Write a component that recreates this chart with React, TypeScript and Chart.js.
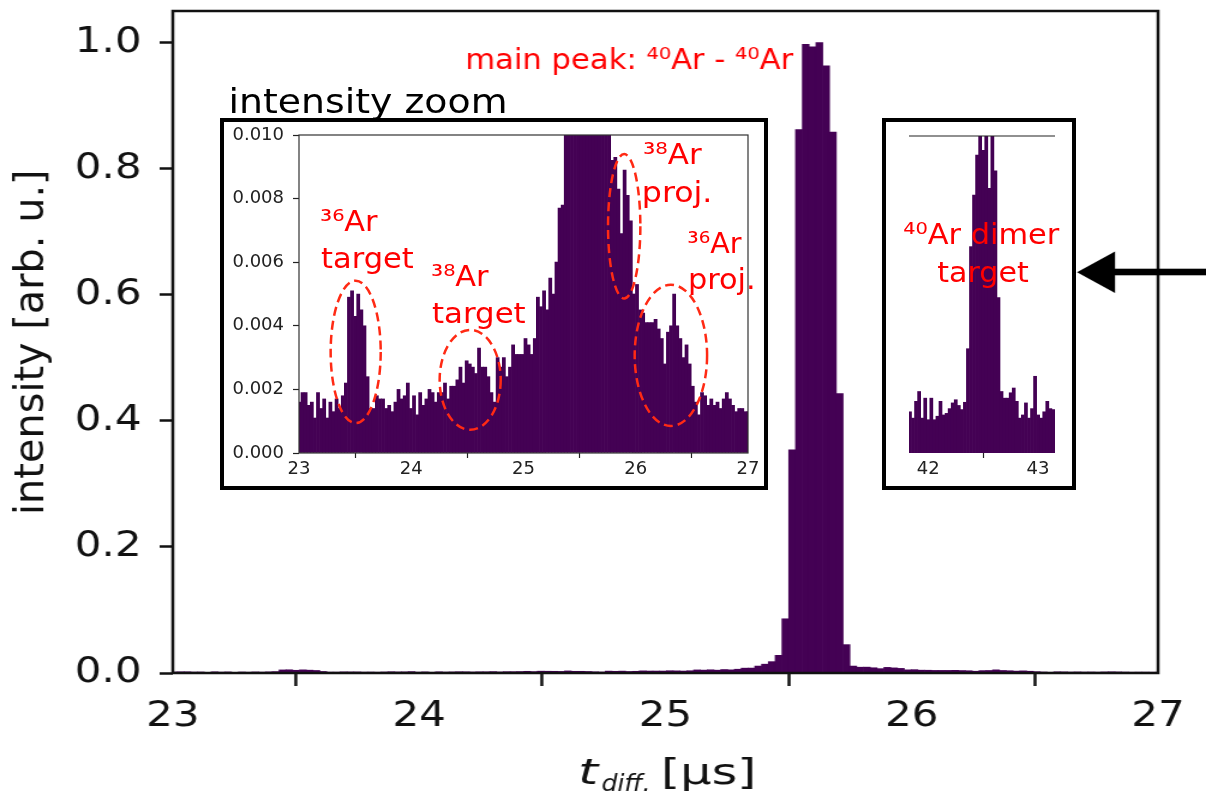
import React, { useEffect, useRef } from 'react';
import { Chart, registerables } from 'chart.js';

Chart.register(...registerables);

const PURPLE = '#440154';
const RED = '#ff0000';
const DASH_RED = '#ff2a14';
const FONT = 'DejaVu Sans';
// the reference figure is horizontally stretched; main canvas is drawn narrower and stretched by CSS
const S = 1.2;

// ---------------- data ----------------
// main time-difference histogram (µs bins), normalised intensity
const binStart = 22.99;
const binWidth = 0.02759;
const intensity = [
  0.0016, 0.0019, 0.0019, 0.0015, 0.0016, 0.0011, 0.0019, 0.0014, 0.0017, 0.0011,
  0.0016, 0.0013, 0.0017, 0.0014, 0.0018, 0.0022, 0.0049, 0.0051, 0.0043, 0.0050,
  0.0045, 0.0040, 0.0024, 0.0014, 0.0014, 0.0018, 0.0017, 0.0017, 0.0014, 0.0015,
  0.0013, 0.0016, 0.0020, 0.0017, 0.0018, 0.0022, 0.0014, 0.0018, 0.0012, 0.0019,
  0.0015, 0.0017, 0.0020, 0.0019, 0.0016, 0.0019, 0.0019, 0.0022, 0.0017, 0.0021,
  0.0021, 0.0023, 0.0027, 0.0022, 0.0029, 0.0028, 0.0027, 0.0025, 0.0033, 0.0027,
  0.0027, 0.0024, 0.0019, 0.0016, 0.0030, 0.0027, 0.0030, 0.0024, 0.0027, 0.0034,
  0.0031, 0.0031, 0.0031, 0.0036, 0.0034, 0.0031, 0.0036, 0.0049, 0.0046, 0.0051,
  0.0045, 0.0055, 0.0050, 0.0060, 0.0077, 0.0078, 0.011, 0.014, 0.018, 0.028,
  0.086, 0.354, 0.862, 0.997, 0.993, 1.0, 0.963, 0.858, 0.443, 0.045,
  0.011, 0.0092, 0.0093, 0.0083, 0.0069, 0.0089, 0.0081, 0.0073, 0.0050, 0.0053,
  0.0045, 0.0044, 0.0041, 0.0041, 0.0041, 0.0042, 0.0039, 0.0036, 0.0028, 0.0038,
  0.0040, 0.0050, 0.0040, 0.0036, 0.0030, 0.0034, 0.0028, 0.0021, 0.0016, 0.0012,
  0.0019, 0.0018, 0.0015, 0.0017, 0.0015, 0.0016, 0.0014, 0.0017, 0.0019, 0.0017,
  0.0015, 0.0013, 0.0014, 0.0014, 0.0013, 0.0013,
];
const mainXTicks = [23, 24, 25, 26, 27];
const mainYTicks = [0, 0.2, 0.4, 0.6, 0.8, 1.0];
const zoomYTicks = [0, 0.002, 0.004, 0.006, 0.008, 0.01];

// 40Ar dimer target histogram (relative to inset height)
const dimerStart = 41.82;
const dimerWidth = 0.0278;
const dimerIntensity = [
  0.13, 0.11, 0.163, 0.194, 0.11, 0.173, 0.105, 0.173, 0.105, 0.116,
  0.163, 0.12, 0.125, 0.14, 0.158, 0.168, 0.15, 0.137, 0.16, 0.329,
  0.651, 0.814, 0.94, 1.1, 0.955, 1.1, 0.835, 1.1, 0.89, 0.49,
  0.194, 0.173, 0.173, 0.19, 0.205, 0.163, 0.11, 0.12, 0.158, 0.11,
  0.14, 0.242, 0.12, 0.11, 0.13, 0.163, 0.14, 0.137,
];
const dimerXTicks = [42, 43];

// dashed ellipses in the zoom inset (data units: centre t, centre y, half-width, half-height)
const ellipseT = [23.505, 24.525, 25.897, 26.313];
const ellipseV = [0.00318, 0.0023, 0.00713, 0.00307];
const ellipseRT = [0.223, 0.272, 0.144, 0.3225];
const ellipseRV = [0.00224, 0.00157, 0.00227, 0.00222];

// ---------------- helpers ----------------
function fitText(
  ctx: CanvasRenderingContext2D,
  text: string,
  x: number,
  y: number,
  font: string,
  width: number,
  color: string
) {
  ctx.save();
  ctx.font = font;
  ctx.fillStyle = color;
  ctx.textAlign = 'left';
  ctx.textBaseline = 'alphabetic';
  const m = ctx.measureText(text);
  const ink = m.actualBoundingBoxLeft + m.actualBoundingBoxRight;
  const k = ink > 0 ? width / ink : 1;
  ctx.translate(x, y);
  ctx.scale(k, 1);
  ctx.fillText(text, m.actualBoundingBoxLeft, 0);
  ctx.restore();
}

function fixX(h: number) {
  return (s: any) => {
    s.height = h;
    s.paddingLeft = 0;
    s.paddingRight = 0;
    s.paddingTop = 0;
    s.paddingBottom = 0;
  };
}
function fixY(w: number) {
  return (s: any) => {
    s.width = w;
    s.paddingLeft = 0;
    s.paddingRight = 0;
    s.paddingTop = 0;
    s.paddingBottom = 0;
  };
}

const mainData = intensity.map((v, i) => ({ x: binStart + (i + 0.5) * binWidth, y: v }));
const dimerData = dimerIntensity.map((v, i) => ({ x: dimerStart + (i + 0.5) * dimerWidth, y: v }));

const mainDecor = {
  id: 'mainDecor',
  afterDraw(chart: any) {
    const { ctx, chartArea: a } = chart;
    ctx.save();
    ctx.strokeStyle = '#111';
    ctx.lineWidth = 2.5;
    ctx.strokeRect(a.left, a.top, a.right - a.left, a.bottom - a.top);
    ctx.restore();

    // page-coordinate overlay
    ctx.save();
    ctx.scale(1 / S, 1);
    // y title
    ctx.save();
    ctx.translate(33, 342);
    ctx.rotate(-Math.PI / 2);
    fitText(ctx, 'intensity [arb. u.]', -170, 10, `40px ${FONT}`, 340, '#111');
    ctx.restore();
    // x title
    fitText(ctx, 't', 581, 784, `italic 35px ${FONT}`, 19, '#111');
    fitText(ctx, 'diff.', 602.5, 791, `italic 23px ${FONT}`, 45.5, '#111');
    fitText(ctx, '[µs]', 665, 784, `35px ${FONT}`, 87.7, '#111');
    // main peak label
    fitText(ctx, 'main peak: ⁴⁰Ar - ⁴⁰Ar', 467.3, 69.3, `29px ${FONT}`, 326, RED);
    // arrow pointing at the dimer inset
    ctx.fillStyle = '#000';
    ctx.fillRect(1112, 272 - 3.3, 1206 - 1112, 6.6);
    ctx.beginPath();
    ctx.moveTo(1077, 272.3);
    ctx.lineTo(1115, 251.5);
    ctx.lineTo(1115, 293);
    ctx.closePath();
    ctx.fill();
    ctx.restore();
  },
};

const zoomDecor = {
  id: 'zoomDecor',
  beforeDraw(chart: any) {
    const ctx = chart.ctx;
    ctx.save();
    ctx.fillStyle = '#fff';
    ctx.fillRect(4, 40, 544, 368);
    ctx.restore();
  },
  afterDraw(chart: any) {
    const { ctx, chartArea: a, scales } = chart;
    const xs = scales.x;
    const ys = scales.y;
    ctx.save();
    ctx.strokeStyle = '#333';
    ctx.lineWidth = 1.2;
    ctx.strokeRect(a.left, a.top, a.right - a.left, a.bottom - a.top);
    ctx.strokeStyle = '#000';
    ctx.lineWidth = 4;
    ctx.strokeRect(4, 40, 544, 368);
    ctx.restore();
    fitText(ctx, 'intensity zoom', 14, 33.3, `33px ${FONT}`, 273, '#000');

    ctx.save();
    ctx.strokeStyle = DASH_RED;
    ctx.lineWidth = 2.5;
    ctx.setLineDash([9, 5]);
    for (let i = 0; i < ellipseT.length; i++) {
      const cx = xs.getPixelForValue(ellipseT[i]);
      const cy = ys.getPixelForValue(ellipseV[i]);
      const rx = Math.abs(xs.getPixelForValue(ellipseT[i] + ellipseRT[i]) - cx);
      const ry = Math.abs(ys.getPixelForValue(ellipseV[i] + ellipseRV[i]) - cy);
      ctx.beginPath();
      ctx.ellipse(cx, cy, rx, ry, 0, 0, Math.PI * 2);
      ctx.stroke();
    }
    ctx.restore();

    const f = `29px ${FONT}`;
    fitText(ctx, '³⁶Ar', 103, 150.7, f, 56.7, RED);
    fitText(ctx, 'target', 103, 187.7, f, 92.3, RED);
    fitText(ctx, '³⁸Ar', 214, 206, f, 56.7, RED);
    fitText(ctx, 'target', 214, 242.7, f, 93.3, RED);
    fitText(ctx, '³⁸Ar', 426, 84.3, f, 57.7, RED);
    fitText(ctx, 'proj.', 426, 121.7, f, 66, RED);
    fitText(ctx, '³⁶Ar', 470.3, 172.7, f, 53.3, RED);
    fitText(ctx, 'proj.', 472, 209.3, f, 63.3, RED);
  },
};

const dimerDecor = {
  id: 'dimerDecor',
  beforeDraw(chart: any) {
    const ctx = chart.ctx;
    ctx.save();
    ctx.fillStyle = '#fff';
    ctx.fillRect(4, 4, 190, 368);
    ctx.restore();
  },
  afterDraw(chart: any) {
    const { ctx, chartArea: a } = chart;
    ctx.save();
    ctx.strokeStyle = '#222';
    ctx.lineWidth = 1.2;
    ctx.beginPath();
    ctx.moveTo(a.left, a.top);
    ctx.lineTo(a.right, a.top);
    ctx.stroke();
    ctx.strokeStyle = '#000';
    ctx.lineWidth = 4;
    ctx.strokeRect(4, 4, 190, 368);
    ctx.restore();
    const f = `29px ${FONT}`;
    fitText(ctx, '⁴⁰Ar dimer', 23.3, 128.3, f, 156, RED);
    fitText(ctx, 'target', 57.3, 165.7, f, 91, RED);
  },
};

function baseOptions(): any {
  return {
    responsive: false,
    maintainAspectRatio: false,
    animation: false,
    devicePixelRatio: 1,
    events: [],
    plugins: { legend: { display: false }, tooltip: { enabled: false }, title: { display: false } },
  };
}

function makeMain(canvas: HTMLCanvasElement) {
  return new Chart(canvas, {
    type: 'bar',
    data: {
      datasets: [
        {
          data: mainData as any,
          backgroundColor: PURPLE,
          borderWidth: 0,
          barPercentage: 1,
          categoryPercentage: 1,
        },
      ],
    },
    options: {
      ...baseOptions(),
      layout: { padding: { left: 0, top: 11, right: 40, bottom: 0 } },
      scales: {
        x: {
          type: 'linear',
          min: 23,
          max: 27,
          offset: false,
          afterBuildTicks: (s: any) => {
            s.ticks = mainXTicks.map((v) => ({ value: v }));
          },
          afterFit: fixX(121),
          grid: { drawOnChartArea: false, drawTicks: true, tickLength: 13, tickWidth: 2.5, tickColor: '#111' },
          border: { display: false },
          ticks: {
            font: { family: FONT, size: 35 },
            color: '#111',
            padding: 10,
            maxRotation: 0,
            autoSkip: false,
            callback: (v: any) => String(v),
          },
        },
        y: {
          type: 'linear',
          min: 0,
          max: 1.05,
          afterBuildTicks: (s: any) => {
            s.ticks = mainYTicks.map((v) => ({ value: v }));
          },
          afterFit: fixY(144),
          grid: { drawOnChartArea: false, drawTicks: true, tickLength: 11, tickWidth: 2.5, tickColor: '#111' },
          border: { display: false },
          ticks: {
            font: { family: FONT, size: 35 },
            color: '#111',
            padding: 15,
            autoSkip: false,
            callback: (v: any) => Number(v).toFixed(1),
          },
        },
      },
    } as any,
    plugins: [mainDecor],
  });
}

function makeZoom(canvas: HTMLCanvasElement) {
  return new Chart(canvas, {
    type: 'bar',
    data: {
      datasets: [
        {
          data: mainData as any,
          backgroundColor: PURPLE,
          borderWidth: 0,
          barPercentage: 1,
          categoryPercentage: 1,
        },
      ],
    },
    options: {
      ...baseOptions(),
      layout: { padding: { left: 0, top: 55, right: 22, bottom: 0 } },
      scales: {
        x: {
          type: 'linear',
          min: 23,
          max: 27,
          offset: false,
          afterBuildTicks: (s: any) => {
            s.ticks = mainXTicks.map((v) => ({ value: v }));
          },
          afterFit: fixX(39),
          grid: { drawOnChartArea: false, drawTicks: true, tickLength: 5, tickWidth: 1.2, tickColor: '#222' },
          border: { display: false },
          ticks: {
            font: { family: FONT, size: 18 },
            color: '#222',
            padding: 1,
            maxRotation: 0,
            autoSkip: false,
            callback: (v: any) => String(v),
          },
        },
        y: {
          type: 'linear',
          min: 0,
          max: 0.01,
          afterBuildTicks: (s: any) => {
            s.ticks = zoomYTicks.map((v) => ({ value: v }));
          },
          afterFit: fixY(81),
          grid: { drawOnChartArea: false, drawTicks: true, tickLength: 6, tickWidth: 1.2, tickColor: '#222' },
          border: { display: false },
          ticks: {
            font: { family: FONT, size: 18 },
            color: '#222',
            padding: 9,
            autoSkip: false,
            callback: (v: any) => Number(v).toFixed(3),
          },
        },
      },
    } as any,
    plugins: [zoomDecor],
  });
}

function makeDimer(canvas: HTMLCanvasElement) {
  return new Chart(canvas, {
    type: 'bar',
    data: {
      datasets: [
        {
          data: dimerData as any,
          backgroundColor: PURPLE,
          borderWidth: 0,
          barPercentage: 1,
          categoryPercentage: 1,
        },
      ],
    },
    options: {
      ...baseOptions(),
      layout: { padding: { left: 29, top: 20, right: 23, bottom: 0 } },
      scales: {
        x: {
          type: 'linear',
          min: 41.825,
          max: 43.155,
          offset: false,
          afterBuildTicks: (s: any) => {
            s.ticks = dimerXTicks.map((v) => ({ value: v }));
          },
          afterFit: fixX(39),
          grid: { drawOnChartArea: false, drawTicks: true, tickLength: 5, tickWidth: 1.2, tickColor: '#222' },
          border: { display: false },
          ticks: {
            font: { family: FONT, size: 18 },
            color: '#222',
            padding: 1,
            maxRotation: 0,
            autoSkip: false,
            callback: (v: any) => String(v),
          },
        },
        y: { type: 'linear', min: 0, max: 1, display: false },
      },
    } as any,
    plugins: [dimerDecor],
  });
}

export default function App() {
  const mainRef = useRef<HTMLCanvasElement>(null);
  const zoomRef = useRef<HTMLCanvasElement>(null);
  const dimerRef = useRef<HTMLCanvasElement>(null);

  useEffect(() => {
    const charts: Chart[] = [];
    if (mainRef.current) charts.push(makeMain(mainRef.current));
    if (zoomRef.current) charts.push(makeZoom(zoomRef.current));
    if (dimerRef.current) charts.push(makeDimer(dimerRef.current));
    return () => charts.forEach((c) => c.destroy());
  }, []);

  return (
    <div
      style={{
        position: 'absolute',
        left: 0,
        top: 0,
        width: 1206,
        height: 794,
        background: '#fff',
        overflow: 'hidden',
      }}
    >
      <canvas
        ref={mainRef}
        width={1005}
        height={794}
        style={{ position: 'absolute', left: 0, top: 0, width: '1206px', height: '794px' }}
      />
      <canvas
        ref={zoomRef}
        width={552}
        height={412}
        style={{ position: 'absolute', left: 218, top: 80, width: '552px', height: '412px' }}
      />
      <canvas
        ref={dimerRef}
        width={198}
        height={376}
        style={{ position: 'absolute', left: 880, top: 116, width: '198px', height: '376px' }}
      />
    </div>
  );
}
